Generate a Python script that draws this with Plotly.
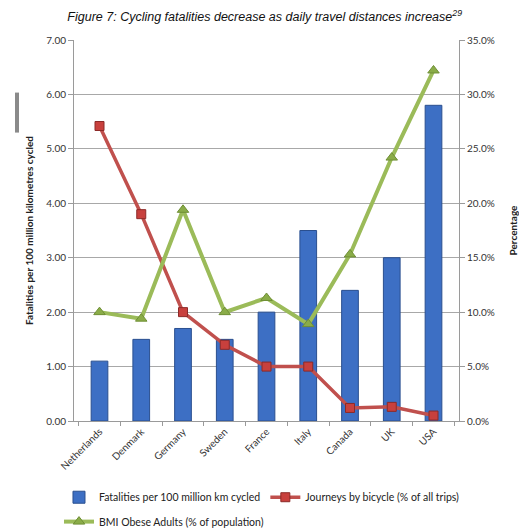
import plotly.graph_objects as go

countries = ["Netherlands", "Denmark", "Germany", "Sweden", "France", "Italy", "Canada", "UK", "USA"]
fatalities = [1.1, 1.5, 1.7, 1.5, 2.0, 3.5, 2.4, 3.0, 5.8]
journeys = [0.271, 0.19, 0.10, 0.07, 0.05, 0.05, 0.012, 0.013, 0.005]
obese = [0.10, 0.094, 0.194, 0.10, 0.113, 0.089, 0.153, 0.242, 0.322]

font_axis = "Lato, 'Open Sans', sans-serif"
fig = go.Figure()
fig.add_trace(go.Bar(
    x=countries, y=fatalities, name="Fatalities per 100 million km cycled",
    marker=dict(color="#3d6fc4", line=dict(color="#2a4f8f", width=1)),
    width=0.4, yaxis="y", legend="legend"))
fig.add_trace(go.Scatter(
    x=countries, y=journeys, name="Journeys by bicycle (% of all trips)",
    mode="lines+markers", yaxis="y2", legend="legend",
    line=dict(color="#c0504d", width=3.5),
    marker=dict(symbol="square", size=9, color="#c8403d", line=dict(color="#8c2a28", width=1))))
fig.add_trace(go.Scatter(
    x=countries, y=obese, name="BMI Obese Adults (% of population)",
    mode="lines+markers", yaxis="y2", legend="legend2",
    line=dict(color="#9bbb59", width=4),
    marker=dict(symbol="triangle-up", size=10, color="#8aac48", line=dict(color="#6f8f35", width=1))))

fig.update_layout(
    width=519, height=532,
    margin=dict(l=74, r=60, t=40, b=111, autoexpand=False),
    paper_bgcolor="white", plot_bgcolor="white",
    showlegend=True,
    title=dict(
        text="Figure 7: Cycling fatalities decrease as daily travel distances increase<sup>29</sup>",
        x=0.51, xanchor="center", y=0.968, yanchor="middle",
        font=dict(family="'Liberation Sans', Arial, sans-serif", size=12.5, color="#111", style="italic")),
    font=dict(family=font_axis, size=10, color="#333"),
    xaxis=dict(
        automargin=False,
        showline=True, linecolor="#9a9a9a", linewidth=1,
        ticks="outside", tickson="boundaries", ticklen=4, tickcolor="#9a9a9a",
        tickangle=-45, tickfont=dict(size=10, color="#333"), showgrid=False),
    yaxis=dict(
        automargin=False,
        range=[0, 7], dtick=1, tickformat=".2f",
        showline=True, linecolor="#9a9a9a", linewidth=1,
        ticks="outside", ticklen=5, tickcolor="#9a9a9a",
        showgrid=True, gridcolor="#a8a8a8", gridwidth=1,
        zeroline=False,
        tickfont=dict(size=10, color="#333"),
        title=dict(text="<b>Fatalities per 100 million kilometres cycled</b>", font=dict(size=10, color="#222"), standoff=10)),
    yaxis2=dict(
        automargin=False,
        range=[0, 0.35], dtick=0.05, tickformat=".1%",
        overlaying="y", side="right",
        showline=True, linecolor="#9a9a9a", linewidth=1,
        ticks="outside", ticklen=5, tickcolor="#9a9a9a",
        showgrid=False, zeroline=False,
        tickfont=dict(size=10, color="#333"),
        title=dict(text="<b>Percentage</b>", font=dict(size=10, color="#222"), standoff=16)),
    legend=dict(
        orientation="h", x=-0.039, xanchor="left", y=-0.162, yanchor="top",
        font=dict(size=10.5, color="#222"), itemwidth=30, bgcolor="rgba(0,0,0,0)"),
    legend2=dict(
        orientation="h", x=-0.039, xanchor="left", y=-0.226, yanchor="top",
        font=dict(size=10.5, color="#222"), itemwidth=30, bgcolor="rgba(0,0,0,0)"),
    bargap=0.6,
    shapes=[dict(type="line", xref="paper", yref="paper",
                 x0=-0.148, x1=-0.148, y0=0.757, y1=0.862,
                 line=dict(color="#8a8a8a", width=4))],
)

fig.write_html("out.html")
